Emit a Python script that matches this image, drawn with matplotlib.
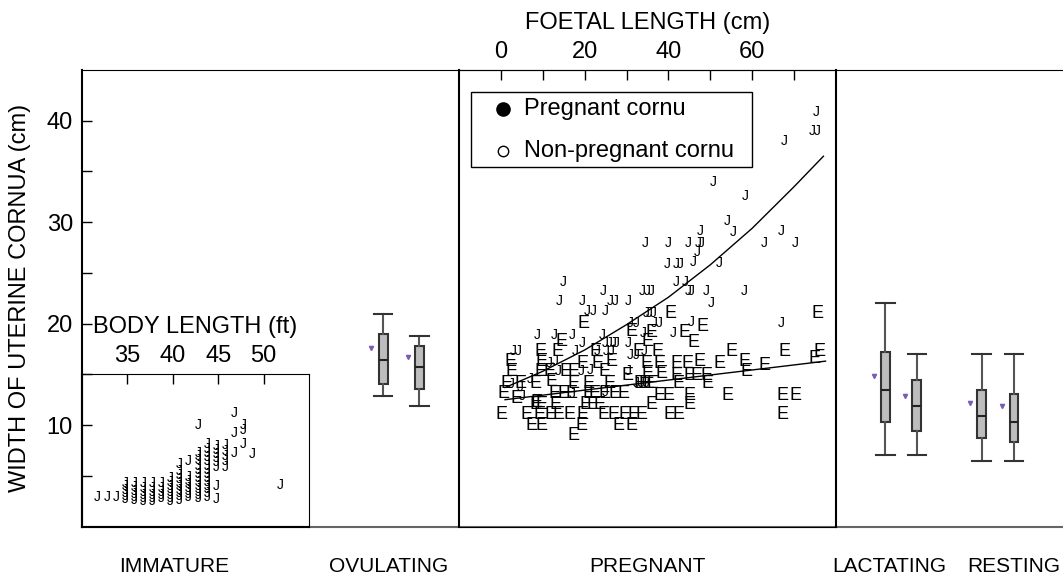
import matplotlib
matplotlib.use('Agg')
import matplotlib.pyplot as plt
from matplotlib.patches import Rectangle

plt.rcParams['font.family'] = ['Liberation Sans', 'DejaVu Sans']

# ---- data ----
categories = ['IMMATURE', 'OVULATING', 'PREGNANT', 'LACTATING', 'RESTING']
category_x = [0.94, 3.13, 5.76, 8.23, 9.50]

# box plots (two cornua per reproductive class)
box_x = [3.07, 3.44, 8.19, 8.51, 9.17, 9.50]
box_whis_hi = [20.9, 18.8, 22.0, 17.0, 17.0, 17.0]
box_q3 = [19.0, 17.8, 17.2, 14.4, 13.5, 13.05]
box_med = [16.4, 15.75, 13.5, 11.9, 10.9, 10.3]
box_q1 = [14.0, 13.55, 10.3, 9.4, 8.7, 8.3]
box_whis_lo = [12.9, 11.9, 7.0, 7.0, 6.5, 6.5]
box_mean = [17.55, 16.7, 14.85, 12.9, 12.2, 11.9]

# immature whales: body length (ft) columns and cornua widths (cm)
imm_body_len = [31.7, 32.8, 33.8, 34.75, 35.8, 36.75, 37.75, 38.75, 39.75,
                40.7, 41.75, 42.8, 43.8, 44.8, 45.8, 46.8, 47.8, 48.8, 51.8]
imm_widths = [
    [2.9],
    [2.9],
    [2.9],
    [2.7, 3.0, 3.3, 3.6, 4.0, 4.3],
    [2.6, 2.9, 3.2, 3.5, 3.9, 4.3],
    [2.5, 2.8, 3.1, 3.4, 3.8, 4.3],
    [2.5, 2.8, 3.1, 3.4, 3.8, 4.3],
    [2.8, 3.1, 3.4, 3.8, 4.3],
    [2.5, 2.8, 3.1, 3.4, 3.7, 4.0, 4.4, 4.8],
    [2.6, 3.0, 3.3, 3.6, 4.0, 4.3, 4.7, 5.1, 5.5, 6.1],
    [2.9, 3.2, 3.5, 3.8, 4.2, 4.5, 4.9, 6.4],
    [2.8, 3.1, 3.4, 3.7, 4.0, 4.4, 4.8, 5.2, 5.6, 6.0, 6.5, 6.9, 7.2, 10.0],
    [2.9, 3.3, 3.7, 4.0, 4.4, 4.8, 5.2, 5.6, 6.0, 6.4, 6.8, 7.2, 7.6, 8.1],
    [2.7, 4.0, 5.9, 6.3, 6.7, 7.1, 7.5, 7.9],
    [5.9, 6.4, 6.9, 7.4, 8.0],
    [7.2, 9.2, 11.2],
    [8.1, 9.5, 10.0],
    [7.1],
    [4.1],
]

# pregnant whales: foetal length (cm) vs width of pregnant cornu (cm)
preg_len = [75.2, 74.4, 75.6, 67.7, 50.8, 58.4, 54.1, 55.4, 47.6, 34.4,
            39.9, 44.7, 47.0, 47.8, 46.8, 62.9, 66.9, 70.2, 45.9, 39.8,
            41.9, 42.7, 52.2, 14.8, 41.9, 43.9, 24.4, 33.7, 34.9, 36.0,
            44.7, 45.5, 49.0, 58.0, 13.9, 19.4, 26.2, 27.4, 30.5, 50.2,
            20.6, 22.1, 25.0, 34.7, 35.5, 36.3, 30.8, 32.3, 36.7, 37.9,
            45.4, 66.9, 8.6, 12.7, 17.0, 24.2, 33.9, 41.1, 19.3, 24.8,
            25.8, 26.7, 27.6, 30.4, 3.0, 4.2, 17.7, 22.9, 25.2, 26.4,
            34.3, 30.8, 32.3, 11.5, 12.9, 19.2, 13.6, 21.3, 30.3, 7.1,
            4.7, 17.0, 24.8, 32.3, 33.5, 34.7, 2.5, 5.0]
preg_width = [40.9, 39.0, 39.0, 38.0, 34.0, 32.6, 30.1, 29.0, 29.1, 27.95,
              27.95, 27.95, 27.95, 27.95, 27.1, 27.95, 29.1, 27.95, 26.1, 25.9,
              25.9, 25.9, 26.0, 24.1, 24.1, 24.1, 23.2, 23.2, 23.2, 23.2,
              23.2, 23.2, 23.2, 23.2, 22.2, 22.2, 22.2, 22.2, 22.2, 22.0,
              21.2, 21.2, 21.2, 21.0, 21.0, 21.0, 20.1, 20.1, 20.1, 20.1,
              20.2, 20.1, 18.9, 18.9, 18.9, 18.9, 19.1, 19.1, 18.1, 18.1,
              18.1, 18.1, 18.1, 18.1, 17.3, 17.3, 17.3, 17.3, 17.3, 17.3,
              17.3, 16.9, 16.9, 16.1, 16.3, 15.3, 15.3, 15.4, 15.3, 14.5,
              13.8, 13.1, 13.3, 14.1, 14.1, 14.1, 14.0, 12.9]

# pregnant whales: foetal length (cm) vs width of non-pregnant cornu (cm)
nonpreg_len = [40.6, 75.6, 19.7, 48.2, 31.2, 36.0, 43.8, 14.4, 45.9, 35.1,
               9.4, 13.6, 22.5, 32.8, 37.5, 55.0, 67.7, 76.0, 2.2, 9.7,
               19.6, 23.0, 26.4, 34.7, 37.9, 41.9, 44.6, 47.4, 52.2, 58.2,
               62.9, 74.8, 2.6, 9.4, 11.7, 15.5, 17.3, 24.8, 30.3, 35.1,
               38.3, 41.9, 45.0, 46.6, 49.0, 58.6, 1.4, 4.6, 8.2, 12.0,
               17.3, 21.0, 26.0, 33.2, 34.2, 35.2, 36.2, 42.3, 49.4, 0.6,
               3.8, 8.5, 12.9, 14.9, 16.8, 20.8, 22.4, 24.8, 27.2, 29.2,
               37.9, 39.9, 45.1, 54.2, 67.3, 70.4, 8.2, 9.7, 13.0, 20.2,
               21.9, 23.5, 35.9, 45.1, 0.2, 6.2, 9.3, 11.8, 13.7, 16.4,
               19.5, 24.4, 27.0, 29.5, 31.6, 33.5, 40.3, 42.3, 67.3, 7.3,
               9.7, 19.2, 28.0, 31.1, 17.3]
nonpreg_width = [21.0, 21.0, 20.0, 19.7, 19.2, 19.1, 19.1, 18.2, 18.1, 18.2,
                 17.3, 17.3, 17.3, 17.3, 17.3, 17.3, 17.3, 17.3, 16.3, 16.3,
                 16.1, 16.1, 16.3, 16.1, 16.1, 16.1, 16.1, 16.3, 16.1, 16.3,
                 15.9, 16.6, 15.3, 15.3, 15.3, 15.3, 15.3, 15.3, 14.9, 15.1,
                 15.1, 14.9, 14.9, 14.9, 14.9, 15.3, 14.1, 14.1, 14.1, 14.3,
                 14.1, 14.1, 14.1, 14.1, 14.1, 14.1, 14.1, 14.1, 14.1, 13.1,
                 12.65, 12.2, 13.1, 13.1, 13.1, 13.1, 13.1, 13.1, 13.1, 13.1,
                 12.95, 12.95, 12.95, 12.95, 12.95, 12.95, 12.0, 12.0, 12.0, 12.0,
                 12.0, 12.0, 12.0, 12.0, 11.0, 11.0, 11.0, 11.0, 11.0, 11.0,
                 11.0, 11.0, 11.0, 11.0, 11.0, 11.0, 11.0, 11.0, 11.0, 10.0,
                 10.0, 10.0, 10.0, 10.0, 9.0]

# fitted trends
preg_fit_len = [1, 10, 20, 30, 40, 50, 60, 70, 77]
preg_fit_width = [13.7, 15.3, 17.4, 19.9, 22.6, 25.8, 29.4, 33.5, 36.5]
nonpreg_fit_len = [1, 77.5]
nonpreg_fit_width = [12.5, 16.3]

# ---- figure ----
fig = plt.figure(figsize=(10.63, 5.74), dpi=100)
L, B, H = 82 / 1063, 47.5 / 574, 456.5 / 574

ax = fig.add_axes([L, B, 1 - L, H])
ax.set_xlim(0, 10)
ax.set_ylim(0, 45)
ax.set_yticks([10, 20, 30, 40])
ax.set_yticks([5, 15, 25, 35], minor=True)
ax.tick_params(axis='y', which='both', direction='in', length=7, width=1,
               labelsize=17, pad=6.5)
ax.set_xticks(category_x)
ax.set_xticklabels(categories, fontsize=15)
ax.tick_params(axis='x', length=0, pad=22)
ax.set_ylabel('WIDTH OF UTERINE CORNUA (cm)', fontsize=17)
ax.yaxis.set_label_coords(-0.052, 0.5)
ax.spines['right'].set_visible(False)
ax.spines['left'].set_linewidth(1.5)
ax.spines['bottom'].set_color('#666666')
ax.spines['bottom'].set_linewidth(1.5)

stats = []
for i in range(len(box_x)):
    stats.append(dict(med=box_med[i], q1=box_q1[i], q3=box_q3[i],
                      whislo=box_whis_lo[i], whishi=box_whis_hi[i], fliers=[]))
ax.bxp(stats, positions=box_x, widths=0.09, capwidths=0.19, patch_artist=True,
       manage_ticks=False,
       boxprops=dict(facecolor='#bdbdbd', edgecolor='#333333', linewidth=1.5),
       medianprops=dict(color='#222222', linewidth=1.5),
       whiskerprops=dict(color='#555555', linewidth=1.5),
       capprops=dict(color='#333333', linewidth=1.5))
ax.plot([x - 0.12 for x in box_x], box_mean, linestyle='none', marker='v',
        markersize=3, color='#7a5cb0')

# pregnant panel with foetal length on top
ax_p = fig.add_axes([459 / 1063, B, 377 / 1063, H], facecolor='none')
ax_p.set_xlim(-10, 80)
ax_p.set_ylim(0, 45)
ax_p.set_yticks([])
ax_p.xaxis.tick_top()
ax_p.xaxis.set_label_position('top')
ax_p.set_xticks([0, 20, 40, 60])
ax_p.set_xticks([10, 30, 50, 70], minor=True)
ax_p.tick_params(axis='x', which='both', direction='in', length=7, width=1,
                 labelsize=17, pad=5)
ax_p.set_xlabel('FOETAL LENGTH (cm)', fontsize=17, labelpad=9)
for s in ['left', 'right']:
    ax_p.spines[s].set_linewidth(1.5)

for x, y in zip(nonpreg_len, nonpreg_width):
    ax_p.text(x, y, 'E', fontsize=13, ha='center', va='center', clip_on=True)
for x, y in zip(preg_len, preg_width):
    ax_p.text(x, y, 'J', fontsize=10, ha='center', va='center', clip_on=True)
ax_p.plot(preg_fit_len, preg_fit_width, color='black', linewidth=1)
ax_p.plot(nonpreg_fit_len, nonpreg_fit_width, color='black', linewidth=1)

# legend box
ax_p.add_patch(Rectangle((0.031, 0.787), 0.747, 0.164, transform=ax_p.transAxes,
                         facecolor='white', edgecolor='black', linewidth=1))
ax_p.plot([0.117], [0.9146], transform=ax_p.transAxes, marker='o',
          markersize=9.5, color='black')
ax_p.plot([0.117], [0.823], transform=ax_p.transAxes, marker='o',
          markersize=7.5, markerfacecolor='white', markeredgecolor='black',
          markeredgewidth=1)
ax_p.text(0.173, 0.9146, 'Pregnant cornu', transform=ax_p.transAxes,
          fontsize=17, va='center')
ax_p.text(0.173, 0.823, 'Non-pregnant cornu', transform=ax_p.transAxes,
          fontsize=17, va='center')

# immature inset with body length on top
ax_i = fig.add_axes([L, B, 227 / 1063, 152.5 / 574], facecolor='none')
ax_i.set_xlim(30, 55)
ax_i.set_ylim(0, 15)
ax_i.set_yticks([])
ax_i.xaxis.tick_top()
ax_i.xaxis.set_label_position('top')
ax_i.set_xticks([35, 40, 45, 50])
ax_i.tick_params(axis='x', direction='in', length=7, width=1, labelsize=17, pad=5)
ax_i.set_xlabel('BODY LENGTH (ft)', fontsize=17, labelpad=9)
ax_i.spines['left'].set_linewidth(1.5)
ax_i.spines['bottom'].set_linewidth(1.5)
for bl, ws in zip(imm_body_len, imm_widths):
    for w in ws:
        ax_i.text(bl, w, 'J', fontsize=10, ha='center', va='center', clip_on=True)

fig.savefig('out.png', dpi=100)
